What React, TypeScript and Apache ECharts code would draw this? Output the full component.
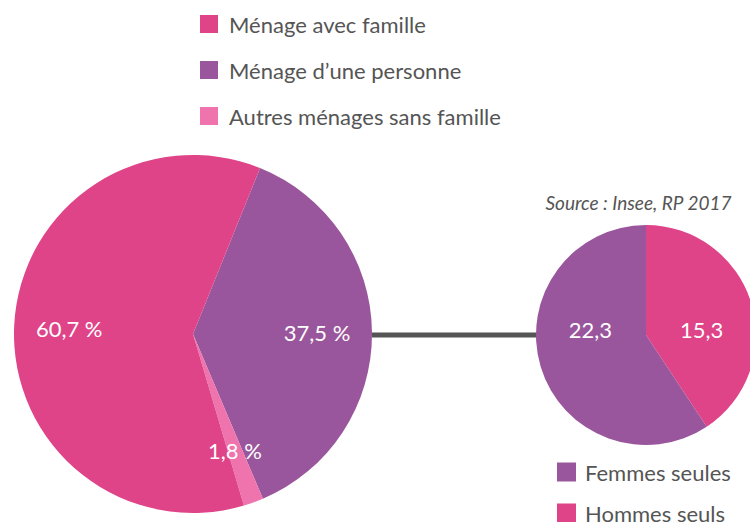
import React, { useEffect, useRef } from "react";
import * as echarts from "echarts";

const mainNames = ["Ménage d’une personne", "Autres ménages sans famille", "Ménage avec famille"];
const mainValues = [37.5, 1.8, 60.7];
const mainColors = ["#9A569C", "#EF73AC", "#DF4388"];
const mainLegendOrder = ["Ménage avec famille", "Ménage d’une personne", "Autres ménages sans famille"];

const subNames = ["Hommes seuls", "Femmes seules"];
const subValues = [15.3, 22.3];
const subColors = ["#DF4388", "#9A569C"];
const subLegendOrder = ["Femmes seules", "Hommes seuls"];

const sourceText = "Source : Insee, RP 2017";

const FONT = 'Lato, "Noto Sans", sans-serif';
const TEXT = "#555555";

const fmt = (v: number) => String(v).replace(".", ",");

export default function App() {
  const ref = useRef<HTMLDivElement>(null);
  useEffect(() => {
    document.body.style.margin = "0";
    document.body.style.overflow = "hidden";
    const chart = echarts.init(ref.current!, null, { renderer: "svg" });
    const mainData = mainNames.map((n, i) => ({ name: n, value: mainValues[i], itemStyle: { color: mainColors[i] } }));
    const subData = subNames.map((n, i) => ({ name: n, value: subValues[i], itemStyle: { color: subColors[i] } }));
    const subCY = 335;
    chart.setOption({
      animation: false,
      backgroundColor: "#ffffff",
      legend: [
        {
          data: mainLegendOrder,
          orient: "vertical",
          left: 195,
          top: 8,
          icon: "rect",
          itemWidth: 18,
          itemHeight: 18,
          itemGap: 24,
          selectedMode: false,
          textStyle: { fontSize: 22, color: TEXT, fontFamily: FONT, padding: [0, 0, 0, 6] },
        },
        {
          data: subLegendOrder,
          orient: "vertical",
          left: 552,
          top: 456,
          icon: "rect",
          itemWidth: 19,
          itemHeight: 19,
          itemGap: 19,
          selectedMode: false,
          textStyle: { fontSize: 22, color: TEXT, fontFamily: FONT, padding: [0, 0, 0, 4] },
        },
      ],
      graphic: [
        {
          type: "line",
          shape: { x1: 372, y1: 335, x2: 537, y2: 335 },
          style: { stroke: "#555555", lineWidth: 5 },
          z: 0,
        },
        {
          type: "text",
          right: 18,
          top: 193,
          style: { text: sourceText, fontSize: 19, fontStyle: "italic", fill: TEXT, fontFamily: FONT },
        },
      ],
      series: [
        {
          type: "pie",
          center: [193, 334],
          radius: [0, 179],
          startAngle: 68,
          clockwise: true,
          silent: true,
          label: { show: false },
          labelLine: { show: false },
          emphasis: { disabled: true },
          data: mainData,
          z: 2,
        },
        {
          type: "pie",
          center: [193, 334],
          radius: [120, 122],
          startAngle: 68,
          clockwise: true,
          silent: true,
          itemStyle: { color: "rgba(0,0,0,0)" },
          label: {
            show: true,
            position: "inside",
            color: "#ffffff",
            fontSize: 22,
            fontFamily: FONT,
            formatter: (p: any) => fmt(p.value) + " %",
          },
          labelLine: { show: false },
          emphasis: { disabled: true },
          data: mainNames.map((n, i) => ({ name: n, value: mainValues[i], itemStyle: { color: "rgba(0,0,0,0)" } })),
          z: 3,
        },
        {
          type: "pie",
          center: [646, subCY],
          radius: [0, 110],
          startAngle: 90,
          clockwise: true,
          silent: true,
          label: {
            show: true,
            position: "inside",
            color: "#ffffff",
            fontSize: 22,
            fontFamily: FONT,
            formatter: (p: any) => fmt(p.value),
          },
          labelLayout: () => ({ y: subCY - 6 }),
          labelLine: { show: false },
          emphasis: { disabled: true },
          data: subData,
          z: 2,
        },
      ],
    });
    return () => chart.dispose();
  }, []);
  return <div ref={ref} style={{ width: 750, height: 560 }} />;
}
